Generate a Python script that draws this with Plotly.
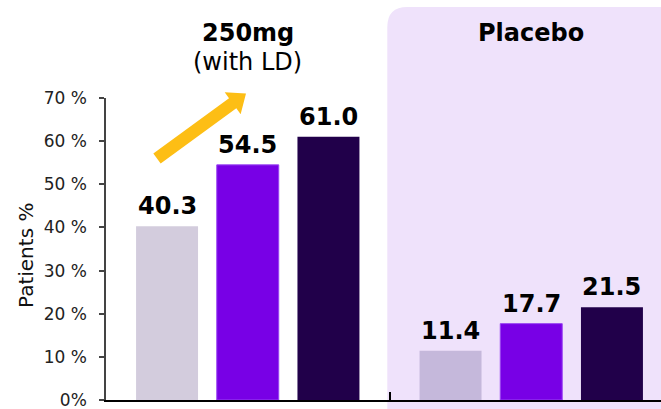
import math
import plotly.graph_objects as go

# ---- data ----
groups = ["250mg", "Placebo"]
series_names = ["Timepoint 1", "Timepoint 2", "Timepoint 3"]
values = {
    "Timepoint 1": [40.3, 11.4],
    "Timepoint 2": [54.5, 17.7],
    "Timepoint 3": [61.0, 21.5],
}
series_colors = {
    "Timepoint 1": ["#D3CCDD", "#C5B8DB"],
    "Timepoint 2": ["#7800E6", "#7800E6"],
    "Timepoint 3": ["#21004A", "#21004A"],
}
y_ticks = [0, 10, 20, 30, 40, 50, 60, 70]
y_ticktext = ["0%"] + [f"{v} %" for v in y_ticks[1:]]

# ---- layout geometry (pixels) ----
W, H = 661, 409
ML, MR, MT, MB = 106, 0, 98, 9
PW, PH = W - ML - MR, H - MT - MB
CAT_PX = 283.5  # pixel width of one category


def px2x(px):
    return (px - ML) / PW


def py2y(py):
    return (H - MB - py) / PH


FONT = "DejaVu Sans"

fig = go.Figure()
for name in series_names:
    fig.add_trace(go.Bar(
        x=groups, y=values[name], name=name,
        marker=dict(color=series_colors[name],
                    line=dict(width=1 if name == "Timepoint 2" else 0,
                              color="#9A45F2")),
        showlegend=False,
    ))

# value labels above bars
slot = CAT_PX * (1 - 0.146) / 3
for i, name in enumerate(series_names):
    for g, v in zip(groups, values[name]):
        fig.add_annotation(
            x=g, y=v, xref="x", yref="y", text=f"<b>{v:.1f}</b>",
            showarrow=False, yanchor="bottom", xanchor="center",
            xshift=(i - 1) * slot, yshift=4,
            font=dict(family=FONT, size=24, color="#000"),
        )

# Placebo background panel (rounded top-left)
x0, x1 = px2x(387.3), px2x(675)
yt, yb = py2y(7), py2y(412)
rx, ry = 20 / PW, 20 / PH
fig.add_shape(
    type="path", xref="paper", yref="paper", layer="below",
    path=(f"M {x0},{yb} L {x0},{yt - ry} Q {x0},{yt} {x0 + rx},{yt} "
          f"L {x1},{yt} L {x1},{yb} Z"),
    fillcolor="#EFE2FB", line=dict(width=0),
)

# yellow arrow
T = (157.0, 158.5)
P = (246.0, 93.5)
dx, dy = P[0] - T[0], P[1] - T[1]
L = math.hypot(dx, dy)
ux, uy = dx / L, dy / L
nx, ny = -uy, ux
hl, hw, sw = 16.5, 13.5, 6.2
B = (P[0] - hl * ux, P[1] - hl * uy)
pts = [
    (T[0] + sw * nx, T[1] + sw * ny),
    (B[0] + sw * nx, B[1] + sw * ny),
    (B[0] + hw * nx, B[1] + hw * ny),
    P,
    (B[0] - hw * nx, B[1] - hw * ny),
    (B[0] - sw * nx, B[1] - sw * ny),
    (T[0] - sw * nx, T[1] - sw * ny),
]
path = "M " + " L ".join(f"{px2x(a)},{py2y(b)}" for a, b in pts) + " Z"
fig.add_shape(type="path", xref="paper", yref="paper", path=path,
              fillcolor="#FDBE15", line=dict(width=0))

# group headers
fig.add_annotation(x=groups[0], xref="x", y=py2y(33), yref="paper",
                   xanchor="center", yanchor="middle",
                   text="<b>250mg</b>", showarrow=False,
                   font=dict(family=FONT, size=24, color="#000"))
fig.add_annotation(x=groups[0], xref="x", y=py2y(62), yref="paper",
                   xanchor="center", yanchor="middle",
                   text="(with LD)", showarrow=False,
                   font=dict(family=FONT, size=24, color="#000"))
fig.add_annotation(x=groups[1], xref="x", y=py2y(33), yref="paper",
                   xanchor="center", yanchor="middle",
                   text="<b>Placebo</b>", showarrow=False,
                   font=dict(family=FONT, size=24, color="#000"))

# y-axis title
fig.add_annotation(x=px2x(26), xref="paper", y=py2y(256), yref="paper",
                   xanchor="center", yanchor="middle",
                   text="Patients %", textangle=-90, showarrow=False,
                   font=dict(family=FONT, size=20, color="#111"))

fig.update_layout(
    width=W, height=H, autosize=False,
    margin=dict(l=ML, r=MR, t=MT, b=MB, pad=0),
    paper_bgcolor="white", plot_bgcolor="rgba(0,0,0,0)",
    barmode="group", bargap=0.146, bargroupgap=0.232,
    font=dict(family=FONT),
    xaxis=dict(type="category", range=[-0.5, -0.5 + PW / CAT_PX],
               showticklabels=False, showgrid=False, zeroline=False,
               showline=True, linecolor="#000", linewidth=1.5,
               ticks="inside", tickson="boundaries", ticklen=8,
               tickcolor="#000", tickwidth=1.5),
    yaxis=dict(range=[0, 70], tickvals=y_ticks, ticktext=y_ticktext,
               showgrid=False, zeroline=False, showline=True,
               linecolor="#444", linewidth=1.5, ticks="outside",
               ticklen=5, tickcolor="#444", tickwidth=1.5,
               ticklabelstandoff=9, ticklabeloverflow="allow",
               tickfont=dict(family=FONT, size=17, color="#222")),
)

fig.write_html("out.html")
